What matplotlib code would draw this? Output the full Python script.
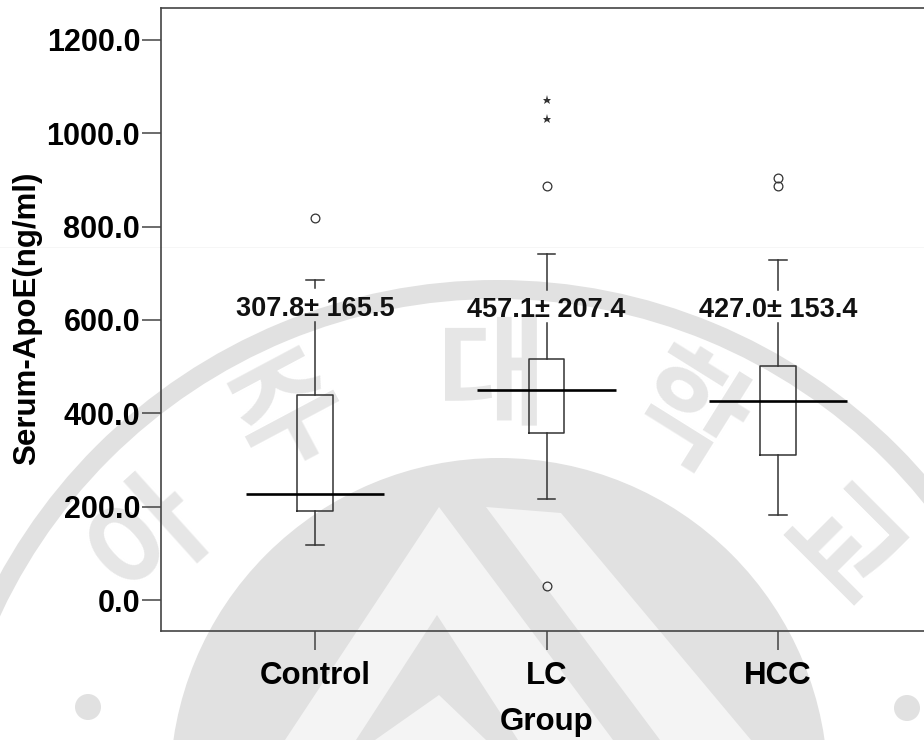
import matplotlib
matplotlib.use('Agg')
import matplotlib.pyplot as plt
from matplotlib.patches import Circle, Polygon, Wedge

plt.rcParams['font.family'] = ['Liberation Sans', 'DejaVu Sans']

# values
groups = ['Control', 'LC', 'HCC']
whisker_low = [118, 216, 182]
q1 = [190, 358, 311]
q3 = [439, 516, 501]
whisker_high = [686, 741, 729]
center_line = [227, 450, 426]
circle_outliers = [[818], [887, 30], [887, 904]]
star_outliers = [[], [1031, 1071], []]
labels = ['307.8\u00b1 165.5', '457.1\u00b1 207.4', '427.0\u00b1 153.4']
label_y = [624, 621, 621]
gap_low = [596, 594, 594]
gap_high = [669, 664, 664]
yticks = [0, 200, 400, 600, 800, 1000, 1200]

W, H = 924, 740
GRAY = '#e1e1e1'
LIGHT = '#f4f4f4'
LINE = '#444444'

fig = plt.figure(figsize=(W / 100, H / 100), dpi=100)

# watermark, in pixel coordinates of the image
bg = fig.add_axes([0, 0, 1, 1], zorder=0)
bg.set_xlim(0, W)
bg.set_ylim(H, 0)
bg.axis('off')
bg.add_patch(Wedge((497, 847), 567, 0, 360, width=19, color=GRAY, lw=0))
bg.add_patch(Circle((499, 787), 329, color=GRAY, lw=0))
bg.add_patch(Polygon([(439, 507), (613, 740), (518, 740), (437, 615), (356, 740), (285, 740)],
                     color=LIGHT, lw=0))
bg.add_patch(Polygon([(486, 507), (561, 513), (751, 740), (660, 740)], color=LIGHT, lw=0))
bg.add_patch(Polygon([(439, 695), (486, 740), (375, 740)], color=LIGHT, lw=0))
bg.add_patch(Circle((88, 707), 13, color=GRAY, lw=0))
bg.add_patch(Circle((907, 708), 13, color=GRAY, lw=0))
bg.axhline(247, color='#f6f6f6', lw=0.7)
ko = dict(color='#e6e6e6', fontsize=86, fontweight='bold', ha='center', va='center',
          family=['Noto Sans CJK KR', 'DejaVu Sans'])
bg.text(150, 540, '\uc544', rotation=42, **ko)
bg.text(290, 415, '\uc8fc', rotation=28, **ko)
bg.text(492, 380, '\ub300', rotation=0, **ko)
bg.text(685, 418, '\ud559', rotation=-32, **ko)
bg.text(838, 550, '\uad50', rotation=-45, **ko)

ax = fig.add_axes([161 / W, 1 - 631 / H, (W - 161 + 1) / W, (631 - 8) / H], zorder=1)
ax.patch.set_alpha(0)

stats = []
for i in range(len(groups)):
    stats.append(dict(whislo=whisker_low[i], q1=q1[i], med=q1[i], q3=q3[i],
                      whishi=whisker_high[i], fliers=[]))
line = dict(color='#333333', lw=1.1)
parts = ax.bxp(stats, positions=range(3), widths=0.155, showfliers=False,
               boxprops=line, whiskerprops=line, capprops=line,
               medianprops=dict(lw=0), manage_ticks=False)
# the upper whisker is broken where the label sits
for i in range(3):
    parts['whiskers'][2 * i + 1].set_ydata([q3[i], gap_low[i]])
    ax.plot([i, i], [gap_high[i], whisker_high[i]], **line)
ax.hlines(center_line, [p - 0.3 for p in range(3)], [p + 0.3 for p in range(3)],
          color='black', lw=1.9, zorder=4)

for i in range(3):
    ax.plot([i] * len(circle_outliers[i]), circle_outliers[i], 'o', ms=6.3,
            mfc='none', mec='#333333', mew=0.9)
    ax.plot([i] * len(star_outliers[i]), star_outliers[i], '*', ms=6.5,
            color='#333333', mew=0)
    ax.text(i, label_y[i], labels[i], ha='center', va='center', fontsize=19.5,
            fontweight='bold', color='#111111', zorder=5)

ax.set_xlim((161 - 315) / 231.5, (W + 1 - 315) / 231.5)
ax.set_ylim((600 - 631) / 0.46667, (600 - 8) / 0.46667)
ax.set_xticks(range(3))
ax.set_xticklabels(groups)
ax.set_yticks(yticks)
ax.set_yticklabels([f'{v:.1f}' for v in yticks])
ax.tick_params(axis='x', length=14, width=1.1, color=LINE, pad=7.5, labelsize=22.5)
ax.tick_params(axis='y', length=14, width=1.1, color=LINE, pad=1, labelsize=22)
for t in ax.get_xticklabels() + ax.get_yticklabels():
    t.set_fontweight('bold')
for s in ax.spines.values():
    s.set_color(LINE)
    s.set_linewidth(1.2)
ax.spines['right'].set_visible(False)

fig.text(547 / W, 1 - 722 / H, 'Group', ha='center', va='center', fontsize=22.5, fontweight='bold')
fig.text(27 / W, 1 - 318 / H, 'Serum-ApoE(ng/ml)', ha='center', va='center', rotation=90,
         fontsize=22.5, fontweight='bold')

fig.savefig('out.png', dpi=100)
